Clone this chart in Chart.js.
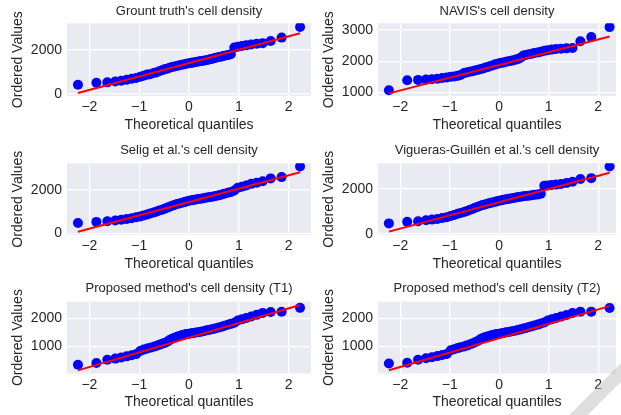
<!DOCTYPE html>
<html>
<head>
<meta charset="utf-8">
<script src="https://cdn.jsdelivr.net/npm/chart.js@4.4.1/dist/chart.umd.min.js"></script>
<style>
  html, body { margin: 0; padding: 0; background: #fff; }
  body { width: 621px; height: 415px; position: relative; overflow: hidden; }
  canvas { position: absolute; }
  .smear {
    position: absolute; left: 510px; top: 377px; width: 200px; height: 13px;
    background: rgba(190, 190, 190, 0.5); transform: rotate(-45deg);
  }
</style>
</head>
<body>
<canvas id="c0"></canvas>
<canvas id="c1"></canvas>
<canvas id="c2"></canvas>
<canvas id="c3"></canvas>
<canvas id="c4"></canvas>
<canvas id="c5"></canvas>
<div class="smear"></div>
<script>
// theoretical quantiles (same for every panel)
const theoreticalQuantiles = [
  -2.23, -1.86, -1.64, -1.48, -1.36, -1.25, -1.15, -1.06, -0.98, -0.91,
  -0.84, -0.78, -0.71, -0.66, -0.60, -0.54, -0.49, -0.44, -0.39, -0.34,
  -0.29, -0.24, -0.19, -0.14, -0.09, -0.05, 0.00, 0.05, 0.09, 0.14,
  0.19, 0.24, 0.29, 0.34, 0.39, 0.44, 0.49, 0.54, 0.60, 0.66,
  0.71, 0.78, 0.84, 0.91, 0.98, 1.06, 1.15, 1.25, 1.36, 1.48,
  1.64, 1.86, 2.23
];

// ordered values for each method
const groundTruth = [
  420, 510, 530, 570, 600, 650, 690, 730, 780, 830,
  880, 900, 950, 980, 1030, 1080, 1120, 1150, 1190, 1220,
  1250, 1270, 1300, 1330, 1350, 1370, 1390, 1410, 1430, 1450,
  1470, 1490, 1510, 1530, 1550, 1580, 1610, 1640, 1670, 1700,
  1730, 1760, 1800, 2100, 2140, 2170, 2200, 2240, 2270, 2300,
  2400, 2550, 3030
];
const navis = [
  1070, 1390, 1400, 1410, 1420, 1440, 1460, 1480, 1500, 1510,
  1530, 1560, 1620, 1640, 1660, 1680, 1700, 1720, 1740, 1760,
  1790, 1810, 1840, 1860, 1890, 1910, 1930, 1950, 1960, 1980,
  2000, 2010, 2030, 2050, 2080, 2120, 2180, 2200, 2220, 2240,
  2260, 2280, 2300, 2330, 2350, 2370, 2390, 2400, 2410, 2420,
  2640, 2770, 3090
];
const selig = [
  480, 530, 560, 590, 630, 660, 700, 740, 780, 820,
  870, 920, 960, 1000, 1050, 1090, 1140, 1180, 1230, 1270,
  1310, 1350, 1380, 1410, 1440, 1470, 1500, 1520, 1540, 1560,
  1580, 1600, 1620, 1640, 1660, 1680, 1700, 1720, 1750, 1790,
  1830, 1870, 1910, 1970, 2100, 2150, 2200, 2280, 2330, 2400,
  2530, 2590, 3080
];
const viguerasGuillen = [
  460, 530, 560, 600, 630, 660, 700, 740, 790, 840,
  890, 930, 970, 1010, 1060, 1110, 1160, 1200, 1240, 1280,
  1310, 1340, 1370, 1400, 1420, 1450, 1480, 1500, 1520, 1540,
  1560, 1580, 1600, 1620, 1640, 1660, 1680, 1690, 1700, 1720,
  1740, 1760, 1790, 2150, 2160, 2180, 2200, 2230, 2270, 2330,
  2450, 2490, 3010
];
const proposedT1 = [
  340, 400, 520, 560, 600, 640, 680, 720, 830, 880,
  920, 950, 980, 1010, 1050, 1090, 1120, 1160, 1220, 1270,
  1300, 1340, 1370, 1400, 1420, 1440, 1450, 1460, 1470, 1490,
  1500, 1520, 1540, 1560, 1580, 1600, 1620, 1640, 1670, 1700,
  1730, 1770, 1800, 1840, 1920, 1960, 2010, 2060, 2120, 2190,
  2220, 2230, 2370
];
const proposedT2 = [
  370, 400, 510, 560, 600, 640, 680, 720, 850, 890,
  930, 960, 990, 1020, 1060, 1100, 1140, 1180, 1240, 1290,
  1320, 1350, 1380, 1400, 1420, 1440, 1450, 1470, 1480, 1500,
  1510, 1530, 1550, 1570, 1590, 1610, 1640, 1660, 1690, 1720,
  1750, 1780, 1820, 1860, 1930, 1970, 2020, 2070, 2130, 2200,
  2250, 2250, 2380
];

// least squares fit line, value at first and last quantile
const fitStart = [50, 970, 80, 90, 140, 130];
const fitEnd = [2750, 2790, 2810, 2730, 2470, 2450];

const panelTitles = [
  "Grount truth's cell density",
  "NAVIS's cell density",
  "Selig et al.'s cell density",
  "Vigueras-Guillén et al.'s cell density",
  "Proposed method's cell density (T1)",
  "Proposed method's cell density (T2)"
];
const xTicks = [-2, -1, 0, 1, 2];
const yTicks = [[0, 2000], [1000, 2000, 3000], [0, 2000], [0, 2000], [1000, 2000], [1000, 2000]];
const series = [groundTruth, navis, selig, viguerasGuillen, proposedT1, proposedT2];

// layout (page pixels)
const cols = [
  { left: 0, width: 316, plotLeft: 67, plotRight: 311, xMax: 2.45, yTitlePad: 10 },
  { left: 316, width: 305, plotLeft: 378, plotRight: 619, xMax: 2.36, yTitlePad: 4.6 }
];
const rows = [
  { top: 0, height: 135, plotTop: 23.3, plotBottom: 96, titleY: 11.6 },
  { top: 135, height: 140, plotTop: 163.3, plotBottom: 235, titleY: 150 },
  { top: 275, height: 140, plotTop: 301.7, plotBottom: 373.5, titleY: 288.3 }
];
const yLimits = [[-85, 3195], [885, 3212], [-73, 3225], [-60, 3155], [28, 2590], [10, 2610]];

const FONT = "'Liberation Sans', Arial, sans-serif";
const TEXT = '#262626';
const X_AXIS_H = 37.4;

const plotBackground = {
  id: 'plotBackground',
  beforeDraw(chart) {
    const { ctx, chartArea: a } = chart;
    ctx.save();
    ctx.fillStyle = '#EAEAF2';
    ctx.fillRect(a.left, a.top, a.right - a.left, a.bottom - a.top);
    ctx.restore();
  }
};

const minus = v => (v < 0 ? '\u2212' + Math.abs(v) : String(v));

for (let i = 0; i < 6; i++) {
  const col = cols[i % 2];
  const row = rows[Math.floor(i / 2)];
  const canvas = document.getElementById('c' + i);
  canvas.width = col.width;
  canvas.height = row.height;
  canvas.style.left = col.left + 'px';
  canvas.style.top = row.top + 'px';

  const n = theoreticalQuantiles.length;
  const points = theoreticalQuantiles.map((q, k) => ({ x: q, y: series[i][k] }));
  const fit = [
    { x: theoreticalQuantiles[0], y: fitStart[i] },
    { x: theoreticalQuantiles[n - 1], y: fitEnd[i] }
  ];

  new Chart(canvas, {
    type: 'scatter',
    data: {
      datasets: [
        {
          data: fit,
          showLine: true,
          borderColor: '#ff0000',
          borderWidth: 2,
          pointRadius: 0,
          order: 0
        },
        {
          data: points,
          backgroundColor: '#0000ff',
          borderWidth: 0,
          pointRadius: 5,
          pointHoverRadius: 5,
          order: 1
        }
      ]
    },
    options: {
      responsive: false,
      animation: false,
      events: [],
      layout: {
        padding: {
          left: 0,
          top: 0,
          right: col.left + col.width - col.plotRight,
          bottom: row.top + row.height - row.plotBottom - X_AXIS_H
        }
      },
      plugins: {
        legend: { display: false },
        tooltip: { enabled: false },
        title: {
          display: true,
          text: panelTitles[i],
          fullSize: false,
          color: TEXT,
          font: { family: FONT, size: 13, weight: 'normal', lineHeight: 1.2 },
          padding: {
            top: row.titleY - row.top - 7.8,
            bottom: row.plotTop - row.titleY - 7.8
          }
        }
      },
      scales: {
        x: {
          type: 'linear',
          min: -2.45,
          max: col.xMax,
          afterBuildTicks: s => { s.ticks = xTicks.map(v => ({ value: v })); },
          afterFit: s => { s.height = X_AXIS_H; },
          grid: { color: '#ffffff', lineWidth: 1.3, drawTicks: false },
          border: { display: false },
          ticks: {
            color: TEXT, padding: 3, maxRotation: 0, autoSkip: false,
            font: { family: FONT, size: 14 },
            callback: v => minus(v)
          },
          title: {
            display: true, text: 'Theoretical quantiles', color: TEXT,
            font: { family: FONT, size: 14 }, padding: { top: 0, bottom: 0 }
          }
        },
        y: {
          type: 'linear',
          min: yLimits[i][0],
          max: yLimits[i][1],
          afterBuildTicks: s => { s.ticks = yTicks[i].map(v => ({ value: v })); },
          afterFit: s => { s.width = col.plotLeft - col.left; },
          grid: { color: '#ffffff', lineWidth: 1.3, drawTicks: false },
          border: { display: false },
          ticks: {
            color: TEXT, padding: 5, autoSkip: false,
            font: { family: FONT, size: 14 },
            callback: v => minus(v)
          },
          title: {
            display: true, text: 'Ordered Values', color: TEXT,
            font: { family: FONT, size: 14 }, padding: { top: col.yTitlePad, bottom: 0 }
          }
        }
      }
    },
    plugins: [plotBackground]
  });
}
</script>
</body>
</html>
